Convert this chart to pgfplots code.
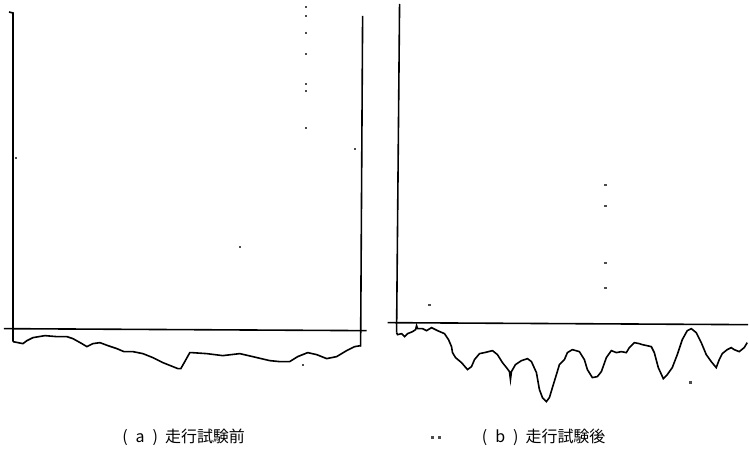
\documentclass[border=0pt]{standalone}
\usepackage{pgfplots}
\pgfplotsset{compat=1.18}
\usepackage{fontspec}
\newfontfamily\cjk{Noto Sans CJK JP}
\begin{document}
\begin{tikzpicture}
\begin{axis}[
  scale only axis, width=374.5pt, height=227.5pt,
  xmin=0, xmax=749, ymin=0, ymax=455, y dir=reverse,
  hide axis, clip=false,
]
\path (rel axis cs:0,0) rectangle (rel axis cs:1,1);
% ---------- panel (a) frame ----------
\addplot[black, line width=0.8pt] coordinates {(9,12) (13,13) (13,342)};
\addplot[black, line width=0.8pt] coordinates {(363,16) (361,347)};
\addplot[black, line width=0.8pt] coordinates {(4,329) (367,331)};
% ---------- panel (a) profile ----------
\addplot[black, line width=0.8pt] coordinates {
(13,342) (18,343) (23,344) (27,341) (33,338) (45,336) (57,337) (67,337)
(73,339) (82,344) (87,347) (93,344) (100,343) (108,346) (117,349) (124,352)
(133,352) (143,354) (153,358) (163,363) (173,367) (178,369) (181,369)
(185,362) (190,353) (192,353) (207,354) (223,356) (240,354) (253,357)
(270,361) (280,362) (290,362) (298,357) (308,353) (317,355) (327,359)
(337,357) (347,351) (355,347) (361,346)
};
% ---------- panel (b) frame ----------
\addplot[black, line width=0.8pt] coordinates {(400,4) (397,333)};
\addplot[black, line width=0.8pt] coordinates {(388,323) (749,325)};
% ---------- panel (b) profile ----------
\addplot[black, line width=0.8pt] coordinates {
(397,333) (398,335) (402,334) (405,337) (408,334) (413,332) (416,330)
(417,326) (418,329) (423,329) (427,331) (432,328) (438,331) (445,334)
(449,340) (452,347) (453,353) (456,358) (462,363) (468,370) (472,367)
(475,360) (480,354) (485,353) (493,351) (498,355) (503,363) (507,368)
(510,372) (511,380) (512,372) (516,365) (522,361) (528,359) (532,362)
(537,373) (540,390) (543,398) (547,402) (550,398) (553,388) (557,375)
(560,365) (565,360) (568,353) (573,350) (580,352) (585,360) (588,370)
(593,378) (598,377) (602,372) (607,358) (612,351) (617,353) (622,352)
(627,353) (630,348) (635,343) (640,344) (643,345) (652,347) (655,353)
(659,368) (664,379) (668,375) (673,368) (678,355) (683,340) (688,331)
(692,329) (697,333) (702,343) (707,355) (712,362) (717,368) (720,360)
(723,354) (728,350) (732,348) (735,350) (740,352) (745,348) (748,343)
};
% ---------- scan specks ----------
\addplot[only marks, mark=square*, mark size=0.35pt, black!70] coordinates {
(306,7) (306,16) (306,33) (306,54) (306,84) (306,91) (306,128)
(355,149) (240,247) (16,158) (303,365)
(606,185) (606,206) (606,263) (606,288) (430,305) (691,383)
(433,438) (440,438)
};
% ---------- captions ----------
\node[font={\cjk\fontsize{8}{10}\selectfont}, anchor=west, inner sep=0pt] at (axis cs:122,438) {(\hspace{4pt}a\hspace{4pt})\hspace{3.5pt}走行試験前};
\node[font={\cjk\fontsize{8}{10}\selectfont}, anchor=west, inner sep=0pt] at (axis cs:482,438) {(\hspace{4pt}b\hspace{4pt})\hspace{3.5pt}走行試験後};
\end{axis}
\end{tikzpicture}
\end{document}
